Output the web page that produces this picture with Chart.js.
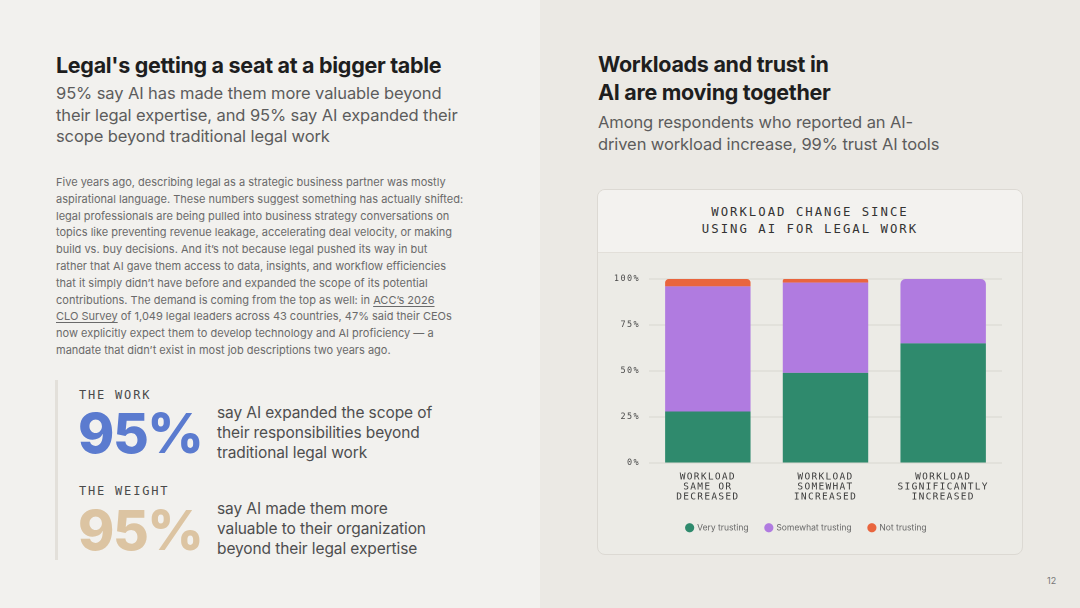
<!DOCTYPE html>
<html>
<head>
<meta charset="utf-8">
<script src="https://cdn.jsdelivr.net/npm/chart.js@4.4.1/dist/chart.umd.min.js"></script>
<style>
  html, body { margin: 0; padding: 0; }
  body { width: 1080px; height: 608px; position: relative; overflow: hidden; font-family: Inter, "Noto Sans", sans-serif; }
  .left { position: absolute; left: 0; top: 0; width: 540px; height: 608px; background: #f2f1ee; }
  .right { position: absolute; left: 540px; top: 0; width: 540px; height: 608px; background: #ebe9e4; }
  .abs { position: absolute; white-space: nowrap; }
  .title { font-size: 21.5px; font-weight: 700; letter-spacing: -0.3px; color: #1e1e1e; line-height: 28px; }
  .sub { font-size: 16.5px; letter-spacing: -0.1px; color: #5c5c5c; line-height: 21.5px; }
  .body { font-size: 11px; color: #6a6a6a; line-height: 16.8px; }
  .body u { text-decoration-thickness: 1px; text-underline-offset: 2px; }
  .label { font-family: "DejaVu Sans Mono", monospace; font-size: 12px; letter-spacing: 1.8px; color: #4a4a4a; line-height: 14px; }
  .big { font-size: 55px; font-weight: 800; letter-spacing: -1.5px; line-height: 44px; }
  .desc { font-size: 15.5px; letter-spacing: -0.1px; color: #4e4e4e; line-height: 20px; }
  .card { position: absolute; left: 597px; top: 189px; width: 424px; height: 364px; border: 1px solid #dcd9d3; border-radius: 8px; background: #ecebe6; overflow: hidden; }
  .card-head { height: 62px; background: #f3f2ef; border-bottom: 1px solid #e2dfd9; }
  .card-title { font-family: "DejaVu Sans Mono", monospace; font-size: 12.3px; letter-spacing: 2px; color: #333; line-height: 16.5px; text-align: center; padding-top: 14px; }
  #chart { position: absolute; left: 597px; top: 252px; }
</style>
</head>
<body>
<div class="left"></div>
<div class="right"></div>

<div class="abs title" style="left:56px; top:51px;">Legal's getting a seat at a bigger table</div>
<div class="abs sub" style="left:56px; top:83px;">95% say AI has made them more valuable beyond<br>their legal expertise, and 95% say AI expanded their<br>scope beyond traditional legal work</div>

<div class="abs body" style="left:56px; top:174px;">Five years ago, describing legal as a strategic business partner was mostly<br>aspirational language. These numbers suggest something has actually shifted:<br>legal professionals are being pulled into business strategy conversations on<br>topics like preventing revenue leakage, accelerating deal velocity, or making<br>build vs. buy decisions. And it’s not because legal pushed its way in but<br>rather that AI gave them access to data, insights, and workflow efficiencies<br>that it simply didn’t have before and expanded the scope of its potential<br>contributions. The demand is coming from the top as well: in <u>ACC’s 2026</u><br><u>CLO Survey</u> of 1,049 legal leaders across 43 countries, 47% said their CEOs<br>now explicitly expect them to develop technology and AI proficiency — a<br>mandate that didn’t exist in most job descriptions two years ago.</div>

<div class="abs" style="left:55px; top:380px; width:3px; height:180px; background:#e3e0da;"></div>
<div class="abs label" style="left:79px; top:388px;">THE WORK</div>
<div class="abs big" style="left:78px; top:411px; color:#5b7bcf;">95%</div>
<div class="abs desc" style="left:217px; top:403px;">say AI expanded the scope of<br>their responsibilities beyond<br>traditional legal work</div>
<div class="abs label" style="left:79px; top:484px;">THE WEIGHT</div>
<div class="abs big" style="left:78px; top:508px; color:#dcc4a2;">95%</div>
<div class="abs desc" style="left:217px; top:499px;">say AI made them more<br>valuable to their organization<br>beyond their legal expertise</div>

<div class="abs title" style="left:598px; top:50px;">Workloads and trust in<br>AI are moving together</div>
<div class="abs sub" style="left:598px; top:112px;">Among respondents who reported an AI-<br>driven workload increase, 99% trust AI tools</div>

<div class="card">
  <div class="card-head"><div class="card-title">WORKLOAD CHANGE SINCE<br>USING AI FOR LEGAL WORK</div></div>
</div>
<div id="chart" style="width:426px; height:303px;"><canvas id="trustChart"></canvas></div>

<div class="abs" style="left:1047px; top:575px; font-size:9px; color:#777;">12</div>

<script>
// categories and values
const workloadLabels = [
  ['WORKLOAD', 'SAME OR', 'DECREASED'],
  ['WORKLOAD', 'SOMEWHAT', 'INCREASED'],
  ['WORKLOAD', 'SIGNIFICANTLY', 'INCREASED']
];
const veryTrusting = [28, 49, 65];
const somewhatTrusting = [68, 49, 35];
const notTrusting = [4, 2, 0];
const yTicks = [0, 25, 50, 75, 100];

const monoFont = "'DejaVu Sans Mono', monospace";

// canvas has no letter-spacing option in Chart.js, so wrap the tick drawing
const tickSpacing = {
  id: 'tickSpacing',
  beforeDraw(chart) {
    ['x', 'y'].forEach((id) => {
      const scale = chart.scales[id];
      if (scale._spaced) return;
      const orig = scale.drawLabels.bind(scale);
      scale.drawLabels = function (area) {
        const ctx = this.ctx;
        ctx.save();
        ctx.letterSpacing = id === 'x' ? '1.3px' : '1.4px';
        orig(area);
        ctx.restore();
      };
      scale._spaced = true;
    });
  }
};

new Chart('trustChart', {
  type: 'bar',
  data: {
    labels: workloadLabels,
    datasets: [
      { label: 'Very trusting', data: veryTrusting, backgroundColor: '#2f8a6d' },
      { label: 'Somewhat trusting', data: somewhatTrusting, backgroundColor: '#b07be0' },
      { label: 'Not trusting', data: notTrusting, backgroundColor: '#e9653e' }
    ]
  },
  options: {
    responsive: true,
    maintainAspectRatio: false,
    animation: false,
    devicePixelRatio: 2,
    layout: { padding: { top: 27, left: 14, right: 21, bottom: 13 } },
    datasets: {
      bar: { categoryPercentage: 0.726, barPercentage: 1, borderRadius: 5, borderSkipped: 'start' }
    },
    scales: {
      x: {
        stacked: true,
        grid: { display: false, drawTicks: false },
        border: { display: false },
        ticks: {
          padding: 9,
          color: '#3a3a3a',
          maxRotation: 0,
          autoSkip: false,
          font: { family: monoFont, size: 9.5, lineHeight: 1.05 }
        },
        afterFit(scale) { scale.height = 43.5; }
      },
      y: {
        stacked: true,
        min: 0,
        max: 100,
        grid: { color: '#d9d6d0', lineWidth: 1, drawTicks: false },
        border: { display: false },
        afterBuildTicks(scale) { scale.ticks = yTicks.map((v) => ({ value: v })); },
        ticks: {
          padding: 9,
          color: '#4a4a4a',
          font: { family: monoFont, size: 8.5 },
          callback: (v) => v + '%'
        },
        afterFit(scale) { scale.width = 38; }
      }
    },
    plugins: {
      legend: {
        position: 'bottom',
        labels: {
          usePointStyle: true,
          pointStyle: 'circle',
          boxWidth: 6.5,
          boxHeight: 6.5,
          padding: 17,
          color: '#666',
          font: { family: 'Inter', size: 8.5 }
        }
      },
      tooltip: { enabled: false }
    }
  },
  plugins: [tickSpacing]
});
</script>
</body>
</html>
